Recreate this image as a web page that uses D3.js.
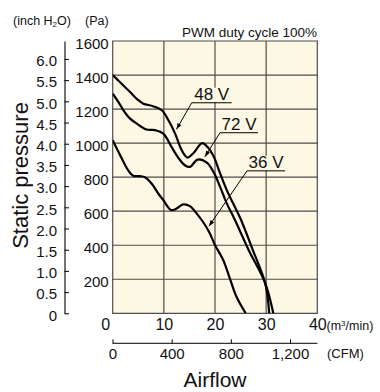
<!DOCTYPE html>
<html><head><meta charset="utf-8">
<script src="https://cdn.jsdelivr.net/npm/d3@7"></script>
<style>
body{margin:0;background:#fff}
svg{display:block}
text{font-family:"Liberation Sans",Arial,sans-serif;fill:#111}
</style>
</head><body>
<svg id="c" width="380" height="392"></svg>
<script>
// ---- data ----
const flowTicks = [0, 10, 20, 30, 40];                 // m3/min
const paTicks = [200, 400, 600, 800, 1000, 1200, 1400, 1600];
const inchTicks = [0, 0.5, 1, 1.5, 2, 2.5, 3, 3.5, 4, 4.5, 5, 5.5, 6];
const cfmTicks = [0, 400, 800, 1200];
const seriesNames = ["48 V", "72 V", "36 V"];

const flow48 = [0, 1.4, 3.4, 5.0, 6.0, 7.9, 9.6, 10.9, 12.2, 13.5, 14.6, 15.8, 17.5, 18.6, 19.7, 21.0, 22.3, 23.8, 25.1, 27.4, 29.8, 30.6];
const pa48   = [1400, 1359, 1300, 1252, 1232, 1217, 1193, 1134, 1056, 958, 915, 942, 1000, 975, 925, 822, 724, 630, 548, 371, 178, 0];

const flow72 = [0, 1.1, 2.1, 3.4, 4.7, 6.6, 8.3, 9.9, 11.5, 12.8, 14.1, 15.1, 16.6, 18.4, 19.7, 21.0, 22.3, 23.9, 26.6, 29.8, 31.4];
const pa72   = [1290, 1242, 1193, 1144, 1115, 1080, 1076, 1056, 978, 915, 870, 860, 903, 885, 831, 743, 646, 548, 371, 178, 0];

const flow36 = [0, 0.8, 2.1, 3.0, 4.0, 5.3, 6.3, 7.6, 8.9, 9.9, 10.9, 11.5, 12.5, 13.8, 15.1, 16.4, 17.7, 18.9, 20.0, 21.6, 22.9, 24.2, 26.0];
const pa36   = [1017, 968, 890, 841, 808, 806, 800, 763, 704, 665, 620, 606, 616, 640, 630, 587, 535, 475, 401, 313, 205, 97, 0];

const seriesFlows = [flow48, flow72, flow36];
const seriesPas = [pa48, pa72, pa36];

// ---- drawing ----
const svg = d3.select("#c");
const x = d3.scaleLinear().domain([0, 40]).range([112.7, 317.3]);
const y = d3.scaleLinear().domain([0, 1600]).range([313.3, 41]);
const PA_PER_INCH = 249.089;
const yIn = d3.scaleLinear().domain([0, 1600 / PA_PER_INCH]).range([313.3, 41]);
const xCfm = d3.scaleLinear().domain([0, 1200]).range([112.5, 290]);
const cream = "#fcf8e4";

svg.append("rect")
  .attr("x", x(0)).attr("y", y(1600))
  .attr("width", x(40) - x(0)).attr("height", y(0) - y(1600))
  .attr("fill", cream);

const grid = svg.append("g").attr("stroke", "#4d4d4d").attr("stroke-width", 1.2);
grid.selectAll("line.v").data(flowTicks).join("line").attr("class", "v")
  .attr("x1", d => x(d)).attr("x2", d => x(d))
  .attr("y1", y(0)).attr("y2", y(1600));
grid.selectAll("line.h").data([0].concat(paTicks)).join("line").attr("class", "h")
  .attr("y1", d => y(d)).attr("y2", d => y(d))
  .attr("x1", x(0) - 0.6).attr("x2", x(40) + 0.6);

// clip
svg.append("clipPath").attr("id", "clip").append("rect")
  .attr("x", x(0)).attr("y", y(1600)).attr("width", x(40) - x(0)).attr("height", y(0) - y(1600));

const line = d3.line().x(d => x(d[0])).y(d => y(d[1])).curve(d3.curveCatmullRom.alpha(0.5));
svg.append("g").attr("clip-path", "url(#clip)")
  .selectAll("path").data(seriesNames).join("path")
  .attr("d", (n, i) => line(seriesFlows[i].map((f, j) => [f, seriesPas[i][j]])))
  .attr("fill", "none").attr("stroke", "#000").attr("stroke-width", 2.2)
  .attr("stroke-linejoin", "round");

// annotations (underline in data units, tip in data units)
const ann = [
  {u0: 15.45, u1: 23.26, uy: 1237, tx: 12.47, ty: 1081},
  {u0: 20.98, u1: 28.41, uy: 1061, tx: 18.04, ty: 920},
  {u0: 26.26, u1: 33.69, uy: 837,  tx: 18.83, ty: 512}
];
const ag = svg.append("g");
ann.forEach((a, i) => {
  const x0 = x(a.u0), x1 = x(a.u1), yy = y(a.uy);
  ag.append("rect").attr("x", x0 + 1).attr("y", yy - 15).attr("width", x1 - x0 - 2).attr("height", 14.5).attr("fill", cream);
  ag.append("text").attr("x", (x0 + x1) / 2).attr("y", yy - 2.4)
    .attr("text-anchor", "middle").attr("font-size", 17).text(seriesNames[i]);
  ag.append("line").attr("x1", x0).attr("x2", x1).attr("y1", yy).attr("y2", yy)
    .attr("stroke", "#000").attr("stroke-width", 1);
  const tx = x(a.tx), ty = y(a.ty);
  ag.append("line").attr("x1", x0).attr("y1", yy).attr("x2", tx).attr("y2", ty)
    .attr("stroke", "#000").attr("stroke-width", 1);
  const dx = tx - x0, dy = ty - yy, L = Math.hypot(dx, dy), ux = dx / L, uy = dy / L;
  const nx = -uy, ny = ux, len = 6, w = 2.2;
  ag.append("path").attr("d", `M${tx},${ty}L${tx - ux * len + nx * w},${ty - uy * len + ny * w}L${tx - ux * len - nx * w},${ty - uy * len - ny * w}Z`)
    .attr("fill", "#000");
});

// Pa axis
const paAxis = svg.append("g").attr("transform", `translate(${x(0)},0)`)
  .call(d3.axisLeft(y).tickValues(paTicks).tickSize(0).tickPadding(4).tickFormat(d3.format("d")));
paAxis.select(".domain").remove();
paAxis.selectAll("text").attr("font-size", 15).attr("dy", "0.48em").attr("font-family", null);

// inch axis
const inAxis = svg.append("g").attr("transform", "translate(64.5,0)")
  .call(d3.axisLeft(yIn).tickValues(inchTicks).tickSizeInner(-4.5).tickSizeOuter(0).tickPadding(7.5)
    .tickFormat(d => d === 0 ? "0" : d3.format(".1f")(d)));
inAxis.select(".domain").attr("stroke", "#000").attr("stroke-width", 1.1);
inAxis.selectAll(".tick line").attr("stroke", "#000").attr("stroke-width", 1);
inAxis.selectAll("text").attr("font-size", 15).attr("dy", "0.45em").attr("font-family", null);

// flow axis (m3/min)
const fAxis = svg.append("g").attr("transform", `translate(0,${y(0)})`)
  .call(d3.axisBottom(x).tickValues(flowTicks).tickSize(0).tickPadding(0).tickFormat(d3.format("d")));
fAxis.select(".domain").remove();
fAxis.selectAll("text").attr("font-size", 16).attr("y", 17.2).attr("dy", 0).attr("font-family", null)
  .attr("dx", d => d === 0 ? -7.5 : 0);
svg.append("text").attr("x", 326.5).attr("y", 330).attr("font-size", 12.5)
  .html('(m<tspan font-size="8" dy="-4.5">3</tspan><tspan dy="4.5">/min)</tspan>');

// CFM axis
const cAxis = svg.append("g").attr("transform", "translate(0,343.3)")
  .call(d3.axisBottom(xCfm).tickValues(cfmTicks).tickSizeInner(-4).tickSizeOuter(0).tickPadding(0)
    .tickFormat(d3.format(",")));
cAxis.select(".domain").remove();
cAxis.append("line").attr("x1", xCfm(0)).attr("x2", x(40)).attr("y1", 0).attr("y2", 0)
  .attr("stroke", "#000").attr("stroke-width", 1);
cAxis.selectAll(".tick line").attr("stroke", "#000");
cAxis.selectAll("text").attr("font-size", 15).attr("y", 16).attr("dy", 0).attr("font-family", null);
svg.append("text").attr("x", 327).attr("y", 358).attr("font-size", 13).text("(CFM)");

// titles
svg.append("text").attr("x", 215).attr("y", 387).attr("text-anchor", "middle").attr("font-size", 21).text("Airflow");
svg.append("text").attr("transform", "translate(28,175.5) rotate(-90)").attr("text-anchor", "middle")
  .attr("font-size", 22).text("Static pressure");
svg.append("text").attr("x", 13).attr("y", 24.5).attr("font-size", 12.5)
  .html('(inch H<tspan font-size="8" dy="2">2</tspan><tspan dy="-2">O)</tspan>');
svg.append("text").attr("x", 85).attr("y", 24.5).attr("font-size", 12.5).text("(Pa)");
svg.append("text").attr("x", 317).attr("y", 37).attr("text-anchor", "end").attr("font-size", 13.5).text("PWM duty cycle 100%");
</script>
</body></html>
